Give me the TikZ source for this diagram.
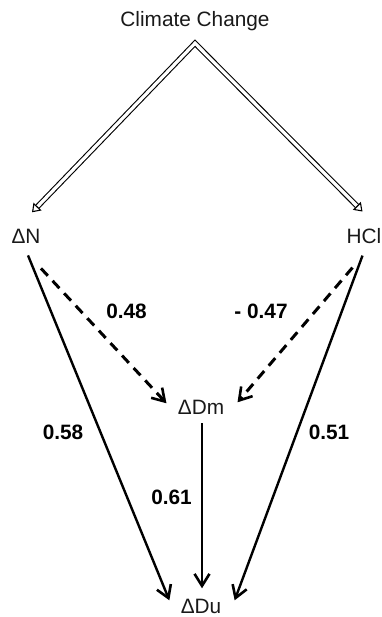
\documentclass[tikz,border=0pt]{standalone}
\usepackage{fontspec}
\setmainfont{Liberation Sans}
\usetikzlibrary{arrows.meta, positioning, calc}
\definecolor{InkGray}{RGB}{25,25,25}

\tikzset{
  lbl/.style={inner sep=0pt, anchor=base, text=InkGray, font=\fontsize{10.4}{12}\selectfont},
  coef/.style={lbl, font=\fontsize{10.4}{12}\selectfont\bfseries, text=black},
  solidarrow/.style={line width=1.2pt, -{Straight Barb[length=6pt, width=7.5pt, line width=1.3pt]}},
  dasharrow/.style={line width=1.5pt, dash pattern=on 5pt off 3.5pt, -{Straight Barb[length=6pt, width=7.5pt, line width=1.3pt]}},
  hollowarrow/.style={line width=0.55pt, double, double distance=1.6pt,
    {Triangle[open, length=4pt, width=5.5pt]}-{Triangle[open, length=4pt, width=5.5pt]}}
}

\begin{document}
\begin{tikzpicture}[x=0.5pt, y=-0.5pt]
\useasboundingbox (0,0) rectangle (381,617);
\node[lbl] (CC) at (195,26.5) {Climate Change};
\node[lbl] (DN) at (26,243) {ΔN};
\node[lbl] (HCL) at (364,243) {HCl};
\node[lbl] (DM) at (201,414) {ΔDm};
\node[lbl] (DU) at (201,613) {ΔDu};
\coordinate (top) at ([shift={(0,12)}]CC.south);
\node[coef] (c48) at (126.5,318.5) {0.48};
\node[coef] (c47) at (261,318.5) {- 0.47};
\node[coef] (c58) at (63,439) {0.58};
\node[coef] (c51) at (329,439) {0.51};
\node[coef] (c61) at (171.5,504) {0.61};
\draw[hollowarrow] ([shift={(6,-16)}]DN.north) -- (top) -- ([shift={(-1.5,-16)}]HCL.north);
\draw[dasharrow] ([shift={(15,25)}]DN.south) -- ([shift={(-11,4)}]DM.north west);
\draw[dasharrow] ([shift={(-11.5,24)}]HCL.south) -- ([shift={(13,3)}]DM.north east);
\draw[solidarrow] ([shift={(2,12)}]DN.south) -- ([shift={(-11,2)}]DU.north west);
\draw[solidarrow] ([shift={(-1.5,12)}]HCL.south) -- ([shift={(13,2)}]DU.north east);
\draw[solidarrow, line width=0.9pt] ([shift={(1,9)}]DM.south) -- ([shift={(1,-10)}]DU.north);
\end{tikzpicture}
\end{document}
